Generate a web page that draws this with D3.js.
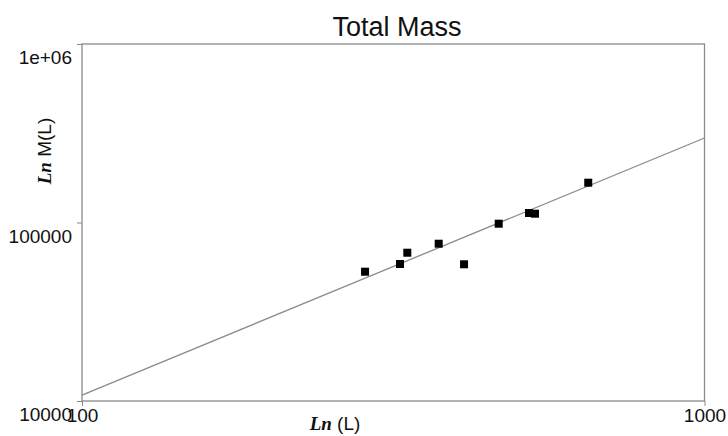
<!DOCTYPE html>
<html><head><meta charset="utf-8">
<script src="https://cdn.jsdelivr.net/npm/d3@7"></script>
<style>
body{margin:0;background:#fff;}
svg{display:block;}
</style></head>
<body><svg id="c" width="728" height="436"></svg>
<script>
const lengthL = [284.9, 324.2, 333.1, 374.1, 410.9, 467.1, 522.5, 534.2, 650.5];
const massM   = [53010, 58540, 67720, 76060, 58320, 98470, 113050, 112030, 167100];
const fitX = [100, 1000];
const fitY = [10800, 297500];
const xTicks = [100, 1000];
const yTicks = [10000, 100000, 1000000];
const yTickLabels = ["10000", "100000", "1e+06"];
const xTickLabels = ["100", "1000"];

const svg = d3.select("#c");
const L = 82, R = 704.5, T = 44, B = 401;
const x = d3.scaleLog().domain([100, 1000]).range([L, R]);
const y = d3.scaleLog().domain([10000, 1000000]).range([B, T]);
const font = "'Liberation Sans', Arial, sans-serif";
const gray = "#8a8a8a";

// title
svg.append("text").attr("x", 397).attr("y", 36).attr("text-anchor", "middle")
  .attr("font-family", font).attr("font-size", 27).attr("fill", "#111")
  .text("Total Mass");

// box
svg.append("rect").attr("x", L).attr("y", T).attr("width", R - L).attr("height", B - T)
  .attr("fill", "none").attr("stroke", gray).attr("stroke-width", 1.3);

// axes
const xAxis = d3.axisBottom(x).tickValues(xTicks).tickSize(5)
  .tickFormat((d, i) => xTickLabels[i]);
const gx = svg.append("g").attr("transform", `translate(0,${B})`).call(xAxis);
gx.select(".domain").remove();
gx.selectAll("line").attr("stroke", gray);
gx.selectAll("text").attr("font-family", font).attr("font-size", 19).attr("fill", "#111")
  .attr("y", 3).attr("dy", "0.95em");

const yAxis = d3.axisLeft(y).tickValues(yTicks).tickSize(5)
  .tickFormat(d => yTickLabels[yTicks.indexOf(d)]);
const gy = svg.append("g").attr("transform", `translate(${L},0)`).call(yAxis);
gy.select(".domain").remove();
gy.selectAll("line").attr("stroke", gray);
gy.selectAll("text").attr("font-family", font).attr("font-size", 19).attr("fill", "#111")
  .attr("x", -10).attr("dy", "1.05em");

// axis titles
const xt = svg.append("text").attr("x", 335).attr("y", 430).attr("text-anchor", "middle")
  .attr("font-size", 19).attr("fill", "#111");
xt.append("tspan").attr("font-family", "'Liberation Serif', 'DejaVu Serif', serif")
  .attr("font-weight", "bold").attr("font-style", "italic").text("Ln");
xt.append("tspan").attr("font-family", font).text(" (L)");

const yt = svg.append("text").attr("transform", "translate(51,151) rotate(-90)")
  .attr("text-anchor", "middle").attr("font-size", 19).attr("fill", "#111");
yt.append("tspan").attr("font-family", "'Liberation Serif', 'DejaVu Serif', serif")
  .attr("font-weight", "bold").attr("font-style", "italic").text("Ln");
yt.append("tspan").attr("font-family", font).text(" M(L)");

// fit line
const fit = fitX.map((d, i) => [d, fitY[i]]);
svg.append("path").datum(fit)
  .attr("d", d3.line().x(d => x(d[0])).y(d => y(d[1])))
  .attr("stroke", "#8a8a8a").attr("stroke-width", 1.3).attr("fill", "none");

// points
const s = 8;
svg.append("g").selectAll("rect").data(lengthL.map((d, i) => [d, massM[i]]))
  .join("rect")
  .attr("x", d => x(d[0]) - s / 2).attr("y", d => y(d[1]) - s / 2)
  .attr("width", s).attr("height", s).attr("fill", "#000");
</script></body></html>
